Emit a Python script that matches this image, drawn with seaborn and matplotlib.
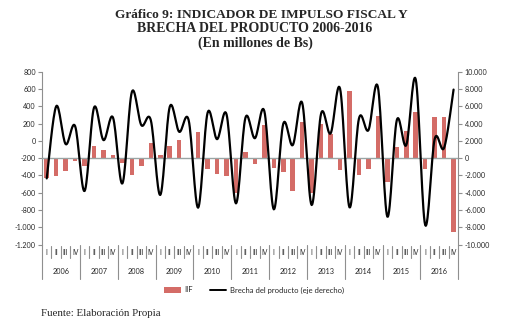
import numpy as np
import pandas as pd
import matplotlib
matplotlib.use("Agg")
import matplotlib.pyplot as plt
import matplotlib.transforms as mtrans
from matplotlib.patches import Patch
from matplotlib.lines import Line2D
import seaborn as sns

# ---------------- data ----------------
years = [str(y) for y in range(2006, 2017)]
quarters = ["I", "II", "III", "IV"]

# IIF (left axis, millones de Bs) - value at the bar end
iif = [-427, -404, -350, -231, -289, -61, -108, -165, -254, -392, -289, -27,
       -165, -61, 4, -200, 100, -323, -381, -404, -600, -135, -265, 181,
       -312, -358, -581, 220, -600, 193, 77, -339, 578, -392, -323, 285,
       -473, -69, 112, 331, -323, 274, 274, -1051]
# Brecha del producto (right axis)
brecha = [-2350, 6000, 1620, 3700, -3810, 5850, 2080, 4700, -2930, 7660, 3810, 4390,
          -4270, 5930, 3040, 4390, -5740, 5240, 2190, 5080, -5240, 4660, 2300, 5430,
          -5930, 3970, 1500, 6390, -5430, 5160, 2850, 8050, -5700, 4580, 3230, 8240,
          -6780, 4390, 1500, 9120, -7740, 2190, 1190, 7930]

left_ticks = list(range(-1200, 801, 200))
right_ticks = list(range(-10000, 10001, 2000))
AXIS_CROSS = -200  # category axis crosses the left axis here

BAR = "#D46C67"
GRAY = "#8F8F8F"
TXT = "#262626"

sns.set_style("white")
plt.rcParams["font.family"] = ["Lato", "DejaVu Sans"]

n = len(iif)
df = pd.DataFrame({"pos": np.arange(n), "iif": iif, "brecha": brecha})
df["height"] = df["iif"] - AXIS_CROSS


def smooth(y, steps=16):
    """Excel-like smoothed line (cubic Bezier, Catmull-Rom tangents)."""
    p = np.asarray(y, float)
    x = np.arange(len(p), dtype=float)
    P = np.column_stack([x, p])
    ext = np.vstack([P[0], P, P[-1]])
    out = []
    t = np.linspace(0, 1, steps, endpoint=False)[:, None]
    for i in range(len(P) - 1):
        p0, p1, p2, p3 = ext[i], ext[i + 1], ext[i + 2], ext[i + 3]
        c1 = p1 + (p2 - p0) / 6
        c2 = p2 - (p3 - p1) / 6
        seg = ((1 - t) ** 3) * p1 + 3 * ((1 - t) ** 2) * t * c1 + 3 * (1 - t) * t ** 2 * c2 + t ** 3 * p2
        out.append(seg)
    out.append(P[-1][None, :])
    out = np.vstack(out)
    return out[:, 0], out[:, 1]


W, H = 517, 327
fig = plt.figure(figsize=(W / 100, H / 100), dpi=100)
x0, x1, ytop, ybot = 42, 458.3, 71.7, 244.5
ax = fig.add_axes([x0 / W, 1 - ybot / H, (x1 - x0) / W, (ybot - ytop) / H])

sns.barplot(data=df, x="pos", y="height", ax=ax, bottom=AXIS_CROSS, color=BAR,
            width=0.48, errorbar=None, saturation=1, linewidth=0)
ax.set_xlim(-0.5, n - 0.5)
ax.set_ylim(left_ticks[0], left_ticks[-1])
ax.set_xlabel("")
ax.set_ylabel("")

ax2 = ax.twinx()
sx, sy = smooth(df["brecha"])
sns.lineplot(x=sx, y=sy, ax=ax2, color="black", linewidth=1.6, sort=False,
             estimator=None)
ax2.set_ylim(right_ticks[0], right_ticks[-1])
ax2.set_xlim(-0.5, n - 0.5)
ax2.set_ylabel("")

fmt = lambda v: f"{v:,}".replace(",", ".")
ax.set_yticks(left_ticks)
ax.set_yticklabels([fmt(v) for v in left_ticks])
ax2.set_yticks(right_ticks)
ax2.set_yticklabels([fmt(v) for v in right_ticks])

for a in (ax, ax2):
    a.tick_params(axis="y", length=3, width=0.8, color=GRAY, labelsize=5.1,
                  labelcolor=TXT, pad=1.5)
ax.set_xticks(np.arange(-0.5, n, 1))
ax.set_xticklabels([])
ax.tick_params(axis="x", length=2, width=0.8, color="#9AA4A4", direction="out")

ax.spines["top"].set_visible(False)
ax.spines["right"].set_visible(False)
ax.spines["bottom"].set_position(("data", AXIS_CROSS))
ax.spines["bottom"].set_color("#9AA4A4")
ax.spines["bottom"].set_linewidth(1.0)
ax.spines["left"].set_color(GRAY)
ax.spines["left"].set_linewidth(0.8)
for s in ("top", "left", "bottom"):
    ax2.spines[s].set_visible(False)
ax2.spines["right"].set_color(GRAY)
ax2.spines["right"].set_linewidth(0.8)

# multi-level category labels
tr = mtrans.blended_transform_factory(ax.transData, ax.transAxes)
for k in range(n + 1):
    xb = k - 0.5
    if k % 4 == 0:
        ax.plot([xb, xb], [0, -0.2], transform=tr, color=GRAY, lw=0.8, clip_on=False)
    else:
        ax.plot([xb, xb], [-0.01, -0.078], transform=tr, color=GRAY, lw=0.8, clip_on=False)
for k in range(n):
    ax.text(k, -0.049, quarters[k % 4], transform=tr, ha="center", va="center",
            fontsize=4.8, color=TXT)
for j, y in enumerate(years):
    ax.text(4 * j + 1.5, -0.159, y, transform=tr, ha="center", va="center",
            fontsize=5.3, color=TXT)

# legend
handles = [Patch(facecolor=BAR, edgecolor="none", label="IIF"),
           Line2D([], [], color="black", lw=1.4, label="Brecha del producto (eje derecho)")]
fig.legend(handles=handles, loc="center", bbox_to_anchor=(254 / W, 1 - 290 / H),
           ncol=2, frameon=False, fontsize=5.5, handlelength=2.2, handleheight=0.8,
           columnspacing=2.2, handletextpad=0.45, labelcolor=TXT)

# titles
serif = ["Liberation Serif", "DejaVu Serif"]
fig.text(261 / W, 1 - 15 / H, "Gráfico 9: INDICADOR DE IMPULSO FISCAL Y", ha="center",
         va="center", family=serif, fontweight="bold", fontsize=9.6)
fig.text(255 / W, 1 - 29 / H, "BRECHA DEL PRODUCTO 2006-2016", ha="center",
         va="center", family=serif, fontweight="bold", fontsize=10)
fig.text(255 / W, 1 - 43 / H, "(En millones de Bs)", ha="center",
         va="center", family=serif, fontweight="bold", fontsize=10)
fig.text(41 / W, 1 - 313 / H, "Fuente: Elaboración Propia", ha="left", va="center",
         family=serif, fontsize=7.8)

fig.savefig("out.png", dpi=100)
